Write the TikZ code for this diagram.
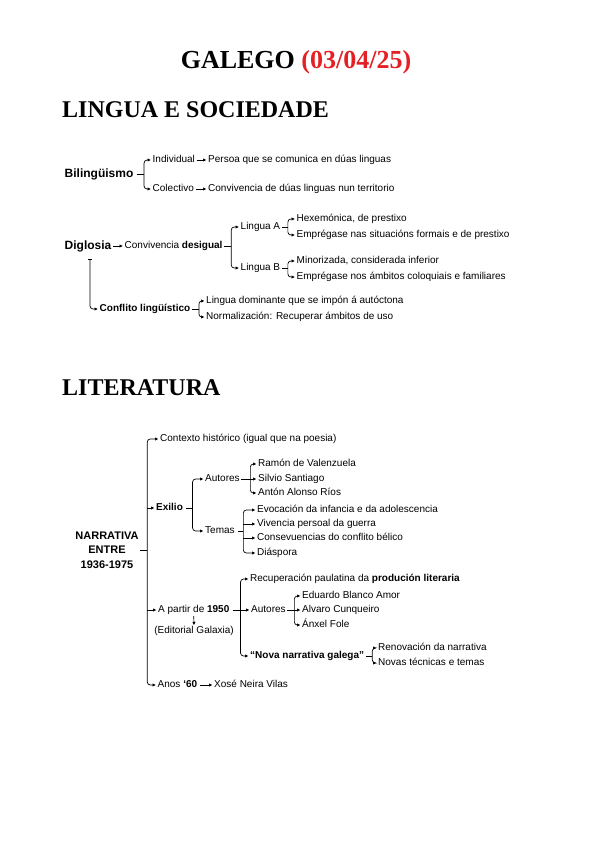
\documentclass[tikz,border=0pt]{standalone}
\usepackage{fontspec}
\setmainfont{Liberation Sans}
\newfontfamily\titlefont{Liberation Serif}
\usetikzlibrary{arrows.meta}
\definecolor{tred}{RGB}{228,32,36}
\begin{document}
\begin{tikzpicture}[x=1pt,y=-1pt,
  t/.style={anchor=west,inner xsep=1.5pt,inner ysep=0pt,font=\fontsize{10}{12}\selectfont,text height=7pt,text depth=2pt},
  tb/.style={t,font=\fontsize{10}{12}\selectfont\bfseries},
  hb/.style={t,font=\fontsize{12}{14}\selectfont\bfseries,text height=8.5pt,text depth=2.5pt},
  ln/.style={line width=0.7pt},
  arr/.style={ln,-{Latex[length=3.5pt,width=3.5pt]}},
  br/.style={arr,rounded corners=3pt},
  sec/.style={anchor=west,inner sep=0pt,font=\titlefont\fontsize{24}{28}\selectfont\bfseries}
]
\useasboundingbox (0,0) rectangle (600,848);

% titles
\node[inner sep=0pt,font=\titlefont\fontsize{26}{30}\selectfont\bfseries] (title) at (296,62) {GALEGO \textcolor{tred}{(03/04/25)}};
\node[sec] (s1) at (62,110) {LINGUA E SOCIEDADE};
\node[sec] (s2) at (62,388) {LITERATURA};

% Bilinguismo
\node[hb] (bil) at (63,174) {Bilingüismo};
\node[t] (ind) at (151,160) {Individual};
\node[t] (per) at (206.5,160) {Persoa que se comunica en dúas linguas};
\node[t] (col) at (151,189) {Colectivo};
\node[t] (cdl) at (206.5,189) {Convivencia de dúas linguas nun territorio};
\draw[ln] ([xshift=1.5pt]bil.east) -- ++(7.5,0) coordinate (bv);
\draw[br] (bv) |- (ind.west);
\draw[br] (bv) |- (col.west);
\draw[arr] (ind.east) -- (per.west);
\draw[arr] (col.east) -- (cdl.west);

% Diglosia
\node[hb] (dig) at (63,246) {Diglosia};
\node[t] (conv) at (123,246) {Convivencia \textbf{desigual}};
\node[t] (la) at (239,227) {Lingua A};
\node[t] (lb) at (239,268) {Lingua B};
\node[t] (ha) at (295,219) {Hexemónica, de prestixo};
\node[t] (ea) at (295,235) {Emprégase nas situacións formais e de prestixo};
\node[t] (mb) at (295,261) {Minorizada, considerada inferior};
\node[t] (eb) at (295,277) {Emprégase nos ámbitos coloquiais e familiares};
\draw[arr] (dig.east) -- (conv.west);
\draw[ln] (conv.east) -- ++(7,0) coordinate (cv);
\draw[br] (cv) |- (la.west);
\draw[br] (cv) |- (lb.west);
\draw[ln] (la.east) -- ++(6,0) coordinate (lav);
\draw[br] (lav) |- (ha.west);
\draw[br] (lav) |- (ea.west);
\draw[ln] (lb.east) -- ++(6,0) coordinate (lbv);
\draw[br] (lbv) |- (mb.west);
\draw[br] (lbv) |- (eb.west);

% Conflito
\node[tb] (conf) at (98,309) {Conflito lingüístico};
\node[t] (ld) at (204.5,301) {Lingua dominante que se impón á autóctona};
\node[t] (nr) at (204.5,317) {Normalización: Recuperar ámbitos de uso};
\draw[ln,rounded corners=3pt,{Bar[width=4pt]}-{Latex[length=3.5pt,width=3.5pt]}] ([xshift=2pt,yshift=-7pt]dig.south) |- (conf.west);
\draw[ln] (conf.east) -- ++(7,0) coordinate (cfv);
\draw[br] (cfv) |- (ld.west);
\draw[br] (cfv) |- (nr.west);

% Literatura
\node[align=center,font=\fontsize{11}{14.5}\selectfont\bfseries,inner sep=1.5pt] (narr) at (107,550) {NARRATIVA\\ENTRE\\1936-1975};
\node[t] (ctx) at (158.5,439) {Contexto histórico (igual que na poesia)};
\node[tb] (exi) at (154.5,508) {Exilio};
\node[t] (apa) at (156.5,610) {A partir de \textbf{1950}};
\node[t,anchor=center] (edi) at (194,631) {(Editorial Galaxia)};
\node[t] (anos) at (156,685) {Anos \textbf{‘60}};
\node[t] (xnv) at (212.5,685) {Xosé Neira Vilas};
\draw[ln] (narr.east) -- ++(7,0) coordinate (nv);
\draw[br] (nv) |- (ctx.west);
\draw[br] (nv) |- (anos.west);
\draw[arr] (nv |- exi.west) -- (exi.west);
\draw[arr] (nv |- apa.west) -- (apa.west);
\draw[arr] ([xshift=1.5pt]anos.east) -- (xnv.west);
\draw[arr] ([yshift=-1.5pt]apa.south) -- ([yshift=1pt]edi.north);

% Exilio
\node[t] (aut1) at (203.5,479) {Autores};
\node[t] (tem) at (203.5,531) {Temas};
\draw[ln] ([xshift=1.5pt]exi.east) -- ++(6.5,0) coordinate (ev);
\draw[br] (ev) |- (aut1.west);
\draw[br] (ev) |- (tem.west);
\node[t] (ramon) at (256.5,464) {Ramón de Valenzuela};
\node[t] (silvio) at (256.5,479) {Silvio Santiago};
\node[t] (anton) at (256.5,493) {Antón Alonso Ríos};
\draw[arr] (aut1.east) -- (silvio.west);
\coordinate (av) at ([xshift=9pt]aut1.east);
\draw[br] (av) |- (ramon.west);
\draw[br] (av) |- (anton.west);
\node[t] (evo) at (255.5,510) {Evocación da infancia e da adolescencia};
\node[t] (viv) at (255.5,524) {Vivencia persoal da guerra};
\node[t] (cons) at (255.5,538) {Consevuencias do conflito bélico};
\node[t] (dia) at (255.5,553) {Diáspora};
\draw[ln] ([xshift=1.5pt]tem.east) -- ++(5.5,0) coordinate (tv);
\draw[br] (tv) |- (evo.west);
\draw[br] (tv) |- (dia.west);
\draw[arr] (tv |- viv.west) -- (viv.west);
\draw[arr] (tv |- cons.west) -- (cons.west);

% A partir de 1950
\node[t] (rec) at (248.5,579) {Recuperación paulatina da \textbf{produción literaria}};
\node[t] (aut2) at (249.5,610) {Autores};
\node[tb] (nova) at (248.5,656) {“Nova narrativa galega”};
\draw[arr] ([xshift=1.5pt]apa.east) -- (aut2.west);
\coordinate (pv) at ([xshift=9.5pt]apa.east);
\draw[br] (pv) |- (rec.west);
\draw[br] (pv) |- (nova.west);
\node[t] (edu) at (300.5,596) {Eduardo Blanco Amor};
\node[t] (alv) at (300.5,610) {Alvaro Cunqueiro};
\node[t] (anx) at (300.5,625) {Ánxel Fole};
\draw[arr] (aut2.east) -- (alv.west);
\coordinate (a2v) at ([xshift=7pt]aut2.east);
\draw[br] (a2v) |- (edu.west);
\draw[br] (a2v) |- (anx.west);
\node[t] (ren) at (376.5,648) {Renovación da narrativa};
\node[t] (nov) at (376.5,663) {Novas técnicas e temas};
\draw[ln] (nova.east) -- ++(6.5,0) coordinate (nnv);
\draw[br] (nnv) |- (ren.west);
\draw[br] (nnv) |- (nov.west);
\end{tikzpicture}
\end{document}
